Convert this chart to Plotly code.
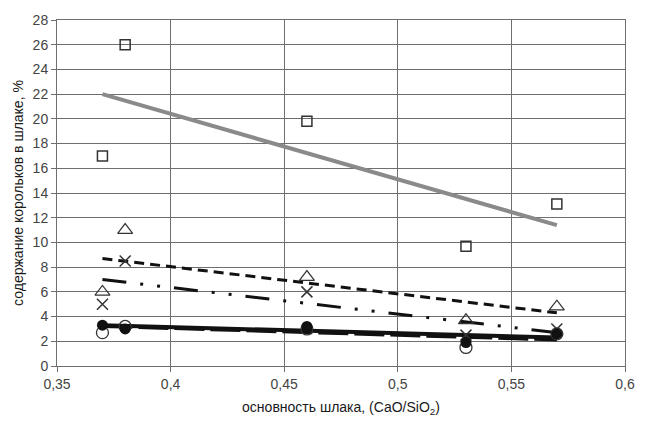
import plotly.graph_objects as go

# Basicity of slag (CaO/SiO2)
x_pts = [0.37, 0.38, 0.46, 0.53, 0.57]

# Measured prill content in slag, % (per series)
squares = [17.0, 26.0, 19.8, 9.7, 13.1]
triangles = [6.0, 11.0, 7.2, 3.7, 4.8]
crosses = [5.0, 8.5, 6.0, 2.5, 3.0]
open_circles = [2.7, 3.2, 3.0, 1.5, 2.6]
filled_circles = [3.3, 3.0, 3.2, 1.9, 2.6]

# Trend line endpoints
trend_x = [0.37, 0.57]
trend_squares = [22.0, 11.4]
trend_triangles = [8.7, 4.3]
trend_crosses = [7.0, 2.7]
trend_open = [3.2, 2.1]
trend_filled = [3.3, 2.3]

x_ticks = [0.35, 0.4, 0.45, 0.5, 0.55, 0.6]
y_ticks = list(range(0, 29, 2))

fig = go.Figure()

# trend lines
fig.add_trace(go.Scatter(x=trend_x, y=trend_squares, mode="lines",
                         line=dict(color="#8a8a8a", width=4)))
fig.add_trace(go.Scatter(x=trend_x, y=trend_triangles, mode="lines",
                         line=dict(color="#111111", width=3, dash="10px,6px")))
fig.add_trace(go.Scatter(x=trend_x, y=trend_crosses, mode="lines",
                         line=dict(color="#111111", width=3,
                                   dash="24px,14px,3px,14px,3px,14px")))
fig.add_trace(go.Scatter(x=trend_x, y=trend_open, mode="lines",
                         line=dict(color="#111111", width=3, dash="30px,6px")))
fig.add_trace(go.Scatter(x=trend_x, y=trend_filled, mode="lines",
                         line=dict(color="#111111", width=4)))

# markers
fig.add_trace(go.Scatter(x=x_pts, y=squares, mode="markers",
                         marker=dict(symbol="square-open", size=10,
                                     color="#333333", line=dict(width=1.5))))
fig.add_trace(go.Scatter(x=x_pts, y=triangles, mode="markers",
                         marker=dict(symbol="triangle-up-open", size=13,
                                     color="#333333", line=dict(width=1.2))))
fig.add_trace(go.Scatter(x=x_pts, y=crosses, mode="markers",
                         marker=dict(symbol="x-thin-open", size=11,
                                     color="#333333", line=dict(width=1.5, color="#333333"))))
fig.add_trace(go.Scatter(x=x_pts, y=open_circles, mode="markers",
                         marker=dict(symbol="circle-open", size=12,
                                     color="#333333", line=dict(width=1.3))))
fig.add_trace(go.Scatter(x=x_pts, y=filled_circles, mode="markers",
                         marker=dict(symbol="circle", size=11, color="#111111")))

fig.update_layout(
    width=647, height=425,
    margin=dict(l=57, r=12, t=13, b=59),
    paper_bgcolor="white", plot_bgcolor="white",
    showlegend=False,
    separators=", ",
    font=dict(family="Arial, Liberation Sans, sans-serif", size=14, color="#333333"),
)
fig.update_xaxes(
    range=[0.35, 0.6], tickvals=x_ticks, tickformat=".2~f",
    tickfont=dict(size=14, color="#444444"),
    showgrid=True, gridcolor="#6f6f6f", gridwidth=1,
    showline=True, linecolor="#6f6f6f", linewidth=1, mirror=True,
    ticks="outside", ticklen=5, tickcolor="#6f6f6f",
    zeroline=False,
    title=dict(text="основность шлака, (CaO/SiO<sub>2</sub>)", standoff=11,
               font=dict(size=14, color="#1a1a1a")),
)
fig.update_yaxes(
    range=[0, 28], tickvals=y_ticks,
    tickfont=dict(size=14, color="#444444"),
    showgrid=True, gridcolor="#6f6f6f", gridwidth=1,
    showline=True, linecolor="#6f6f6f", linewidth=1, mirror=True,
    ticks="outside", ticklen=5, tickcolor="#6f6f6f",
    zeroline=False,
    title=dict(text="содержание корольков в шлаке, %", standoff=5,
               font=dict(size=14, color="#1a1a1a")),
)

fig.write_html("out.html")
